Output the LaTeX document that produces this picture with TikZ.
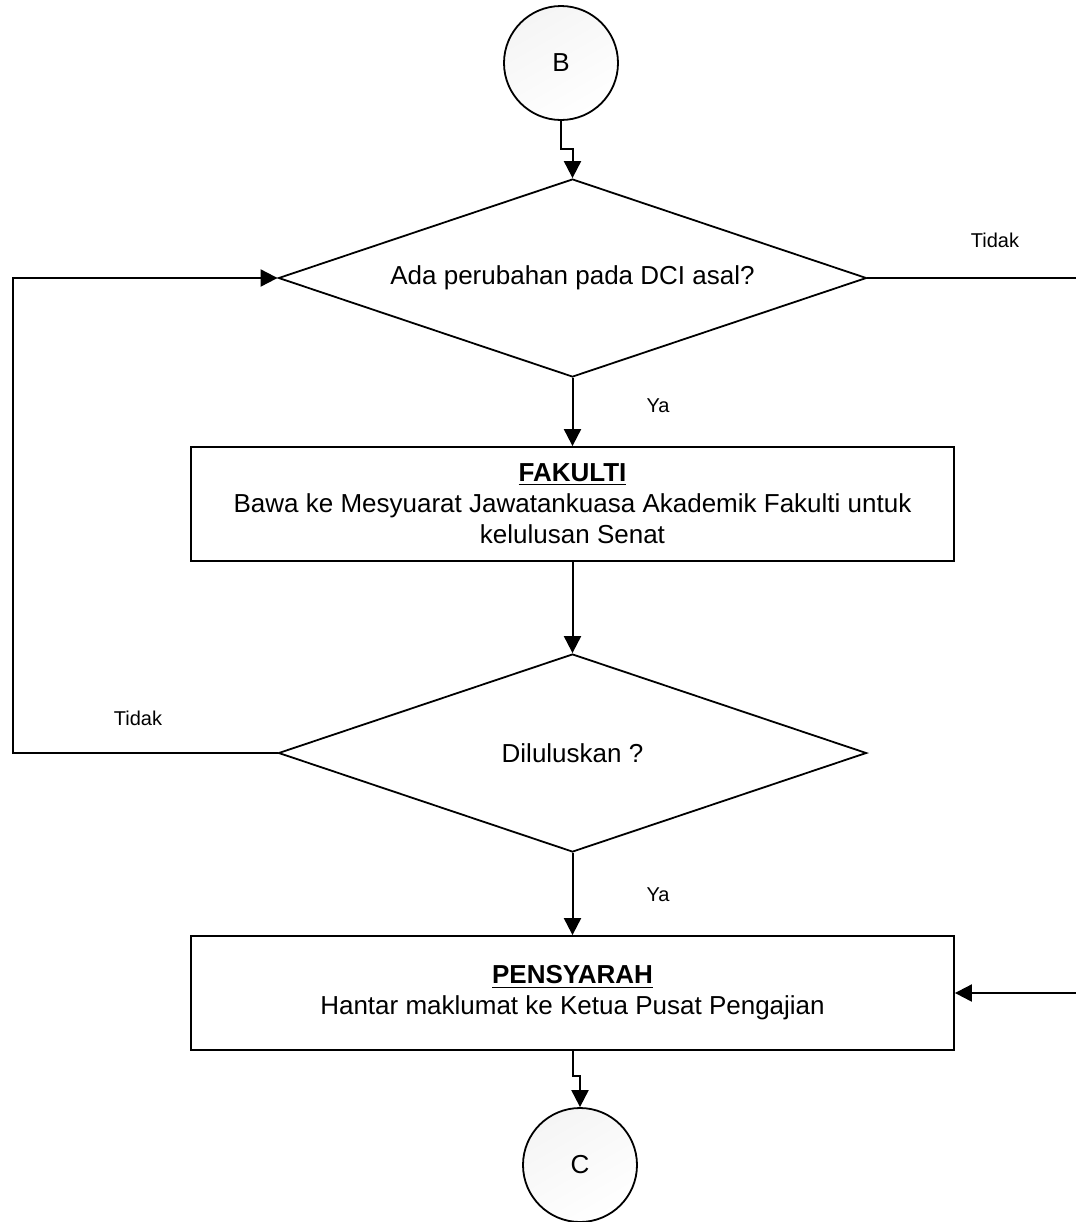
\documentclass[tikz,border=0pt]{standalone}
\usepackage{fontspec}
\setmainfont{Liberation Sans}
\usetikzlibrary{arrows.meta,shapes.geometric}
\begin{document}
\begin{tikzpicture}[x=0.5pt,y=-0.5pt,
    every node/.style={font=\fontsize{13}{15.5}\selectfont},
    onpage/.style={circle,draw,line width=0.9pt,minimum size=57pt,inner sep=0pt,
      top color=gray!8,bottom color=white,shading angle=30},
    decision/.style={diamond,draw,line width=0.9pt,aspect=3,inner sep=0pt,
      minimum width=294pt,minimum height=99pt},
    process/.style={rectangle,draw,line width=0.9pt,minimum width=381.5pt,
      minimum height=57pt,align=center,inner sep=0pt},
    label/.style={font=\fontsize{10}{12}\selectfont},
    arr/.style={line width=1pt,-{Triangle[width=8.5pt,length=8.5pt]}}]
  \useasboundingbox (0,0) rectangle (1076,1222);
  \node[onpage] (B) at (561,63) {B};
  \node[decision] (d1) at (572.5,278) {Ada perubahan pada DCI asal?};
  \node[process] (p1) at (572.5,504)
    {\underline{\textbf{FAKULTI}}\\Bawa ke Mesyuarat Jawatankuasa Akademik Fakulti untuk\\kelulusan Senat};
  \node[decision] (d2) at (572.5,753) {Diluluskan ?};
  \node[process] (p2) at (572.5,993)
    {\underline{\textbf{PENSYARAH}}\\Hantar maklumat ke Ketua Pusat Pengajian};
  \node[onpage] (C) at (580,1165) {C};
  % titik belokan
  \coordinate (kanan) at (1078,278);
  \coordinate (kiri) at (13,753);
  % label cabang
  \node[label] (tidak1) at (995,240) {Tidak};
  \node[label] (ya1) at (658,406) {Ya};
  \node[label] (tidak2) at (138,718) {Tidak};
  \node[label] (ya2) at (658,895) {Ya};
  % penyambung
  \draw[arr] (B.south) -- ++(0,28) -| (d1.north);
  \draw[arr] (d1.south) -- (p1.north);
  \draw[arr] (p1.south) -- (d2.north);
  \draw[arr] (d2.south) -- (p2.north);
  \draw[arr] (p2.south) -- ++(0,25) -| (C.north);
  \draw[arr] (d2.west) -- (kiri) |- (d1.west);
  \draw[arr] (d1.east) -- (kanan) |- (p2.east);
\end{tikzpicture}
\end{document}
